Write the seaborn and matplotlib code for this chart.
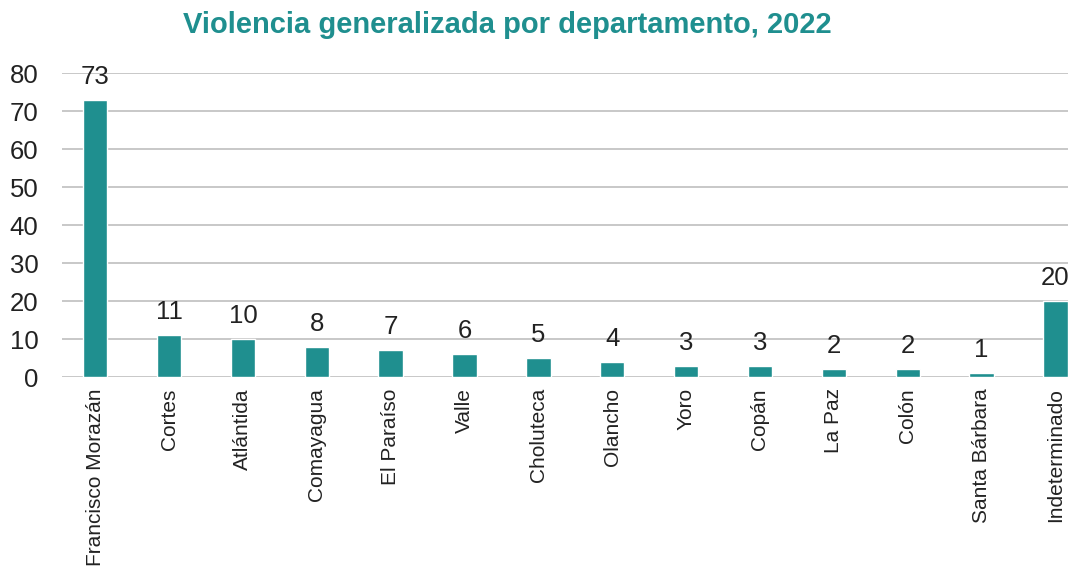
import pandas as pd
import matplotlib
matplotlib.use("Agg")
import matplotlib.pyplot as plt
import seaborn as sns

# data
departamentos = ["Francisco Morazán", "Cortes", "Atlántida", "Comayagua", "El Paraíso",
                 "Valle", "Choluteca", "Olancho", "Yoro", "Copán", "La Paz", "Colón",
                 "Santa Bárbara", "Indeterminado"]
casos = [73, 11, 10, 8, 7, 6, 5, 4, 3, 3, 2, 2, 1, 20]

teal = "#1f8f8f"

sns.set_style("white")
plt.rcParams["font.family"] = ["Liberation Sans", "DejaVu Sans"]

df = pd.DataFrame({"dep": departamentos, "casos": casos})

fig = plt.figure(figsize=(10.68, 5.67), dpi=100)
ax = fig.add_axes([0.058, 0.335, 0.942, 0.536])

sns.barplot(data=df, x="dep", y="casos", color=teal, width=0.33, saturation=1, ax=ax, zorder=3)

ax.set_ylim(0, 80)
ax.set_xlim(-0.45, 13.17)
ax.set_yticks(range(0, 81, 10))
ax.grid(axis="y", color="#c4c4c4", linewidth=1.3, zorder=0)
for s in ax.spines.values():
    s.set_visible(False)
ax.tick_params(axis="y", labelsize=18.5, length=0, pad=17, colors="#222222")
ax.tick_params(axis="x", labelsize=15, length=0, pad=8, colors="#222222")
plt.setp(ax.get_xticklabels(), rotation=90)
ax.set_xlabel("")
ax.set_ylabel("")

for c in ax.containers:
    ax.bar_label(c, fmt="%d", padding=8, fontsize=18.5, color="#222222")

fig.suptitle("Violencia generalizada por departamento, 2022", x=0.475, y=0.98,
             fontsize=21, fontweight="bold", color=teal)

fig.savefig("out.png", dpi=100)
